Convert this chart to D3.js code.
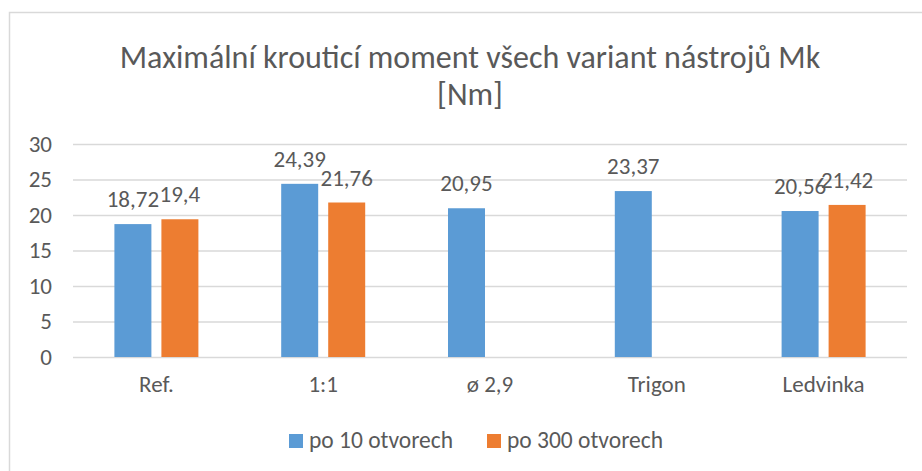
<!DOCTYPE html>
<html><head><meta charset="utf-8">
<script src="https://cdn.jsdelivr.net/npm/d3@7"></script>
<style>
html,body{margin:0;padding:0;background:#fff;}
text{font-family:Carlito,Calibri,Lato,"Open Sans",sans-serif;fill:#595959;}
</style></head>
<body>
<svg id="chart" width="922" height="471"></svg>
<script>
const categories = ["Ref.", "1:1", "ø 2,9", "Trigon", "Ledvinka"];
const seriesNames = ["po 10 otvorech", "po 300 otvorech"];
const series10 = [18.72, 24.39, 20.95, 23.37, 20.56];
const series300 = [19.4, 21.76, null, null, 21.42];
const yTicks = [0, 5, 10, 15, 20, 25, 30];
const colors = ["#5b9bd5", "#ed7d31"];
const titleLines = ["Maximální krouticí moment všech variant nástrojů Mk", "[Nm]"];

const svg = d3.select("#chart");
const W = 922, H = 471;
svg.append("rect").attr("width", W).attr("height", H).attr("fill", "#fff");
// chart border (partly cropped)
svg.append("path").attr("d", `M9.5,${H} V12.5 H${W}`).attr("fill", "none").attr("stroke", "#d9d9d9").attr("stroke-width", 1.5);

const plot = {left: 73, right: 907, top: 144, bottom: 357};
const y = d3.scaleLinear().domain([0, 30]).range([plot.bottom, plot.top]);
const x0 = d3.scaleBand().domain(categories).range([plot.left, plot.right]).padding(0);
const groupW = 84;
const x1 = d3.scaleBand().domain(seriesNames)
  .range([x0.bandwidth() / 2 - groupW / 2, x0.bandwidth() / 2 + groupW / 2])
  .paddingInner(0.213).paddingOuter(0);

// gridlines
const yAxis = d3.axisLeft(y).tickValues(yTicks).tickSize(-(plot.right - plot.left)).tickFormat(d3.format("d")).tickPadding(21);
const gy = svg.append("g").attr("transform", `translate(${plot.left},0)`).call(yAxis);
gy.select(".domain").remove();
gy.selectAll("line").attr("stroke", "#d9d9d9").attr("stroke-width", 1.3);
gy.selectAll("text").attr("fill", "#595959").style("font-size", "23px");

// x axis labels
const xAxis = d3.axisBottom(x0).tickSize(0).tickPadding(19);
const gx = svg.append("g").attr("transform", `translate(0,${plot.bottom})`).call(xAxis);
gx.select(".domain").remove();
gx.selectAll("text").attr("fill", "#595959").style("font-size", "23px");

const data = categories.map((c, i) => ({cat: c, vals: [series10[i], series300[i]]}));
const groups = svg.append("g").selectAll("g").data(data).join("g")
  .attr("transform", d => `translate(${x0(d.cat)},0)`);
const items = groups.selectAll("g").data(d => d.vals.map((v, k) => ({v, k}))).join("g")
  .filter(d => d.v != null);
items.append("rect")
  .attr("x", d => x1(seriesNames[d.k]))
  .attr("width", x1.bandwidth())
  .attr("y", d => y(d.v))
  .attr("height", d => y(0) - y(d.v))
  .attr("fill", d => colors[d.k]);
items.append("text")
  .attr("x", d => x1(seriesNames[d.k]) + x1.bandwidth() / 2)
  .attr("y", d => y(d.v) - 17)
  .attr("text-anchor", "middle")
  .style("font-size", "23px").attr("fill", "#404040")
  .text(d => String(d.v).replace(".", ","));

// title
svg.append("g").selectAll("text").data(titleLines).join("text")
  .attr("x", 470).attr("y", (d, i) => 68 + i * 37)
  .attr("text-anchor", "middle").style("font-size", "32px").attr("fill", "#595959")
  .text(d => d);

// legend
const legendX = [289, 487];
const lg = svg.append("g").selectAll("g").data(seriesNames).join("g")
  .attr("transform", (d, i) => `translate(${legendX[i]},434)`);
lg.append("rect").attr("width", 14).attr("height", 14).attr("fill", (d, i) => colors[i]);
lg.append("text").attr("x", 20).attr("y", 14).style("font-size", "23.5px").attr("fill", "#595959").text(d => d);
</script>
</body></html>
